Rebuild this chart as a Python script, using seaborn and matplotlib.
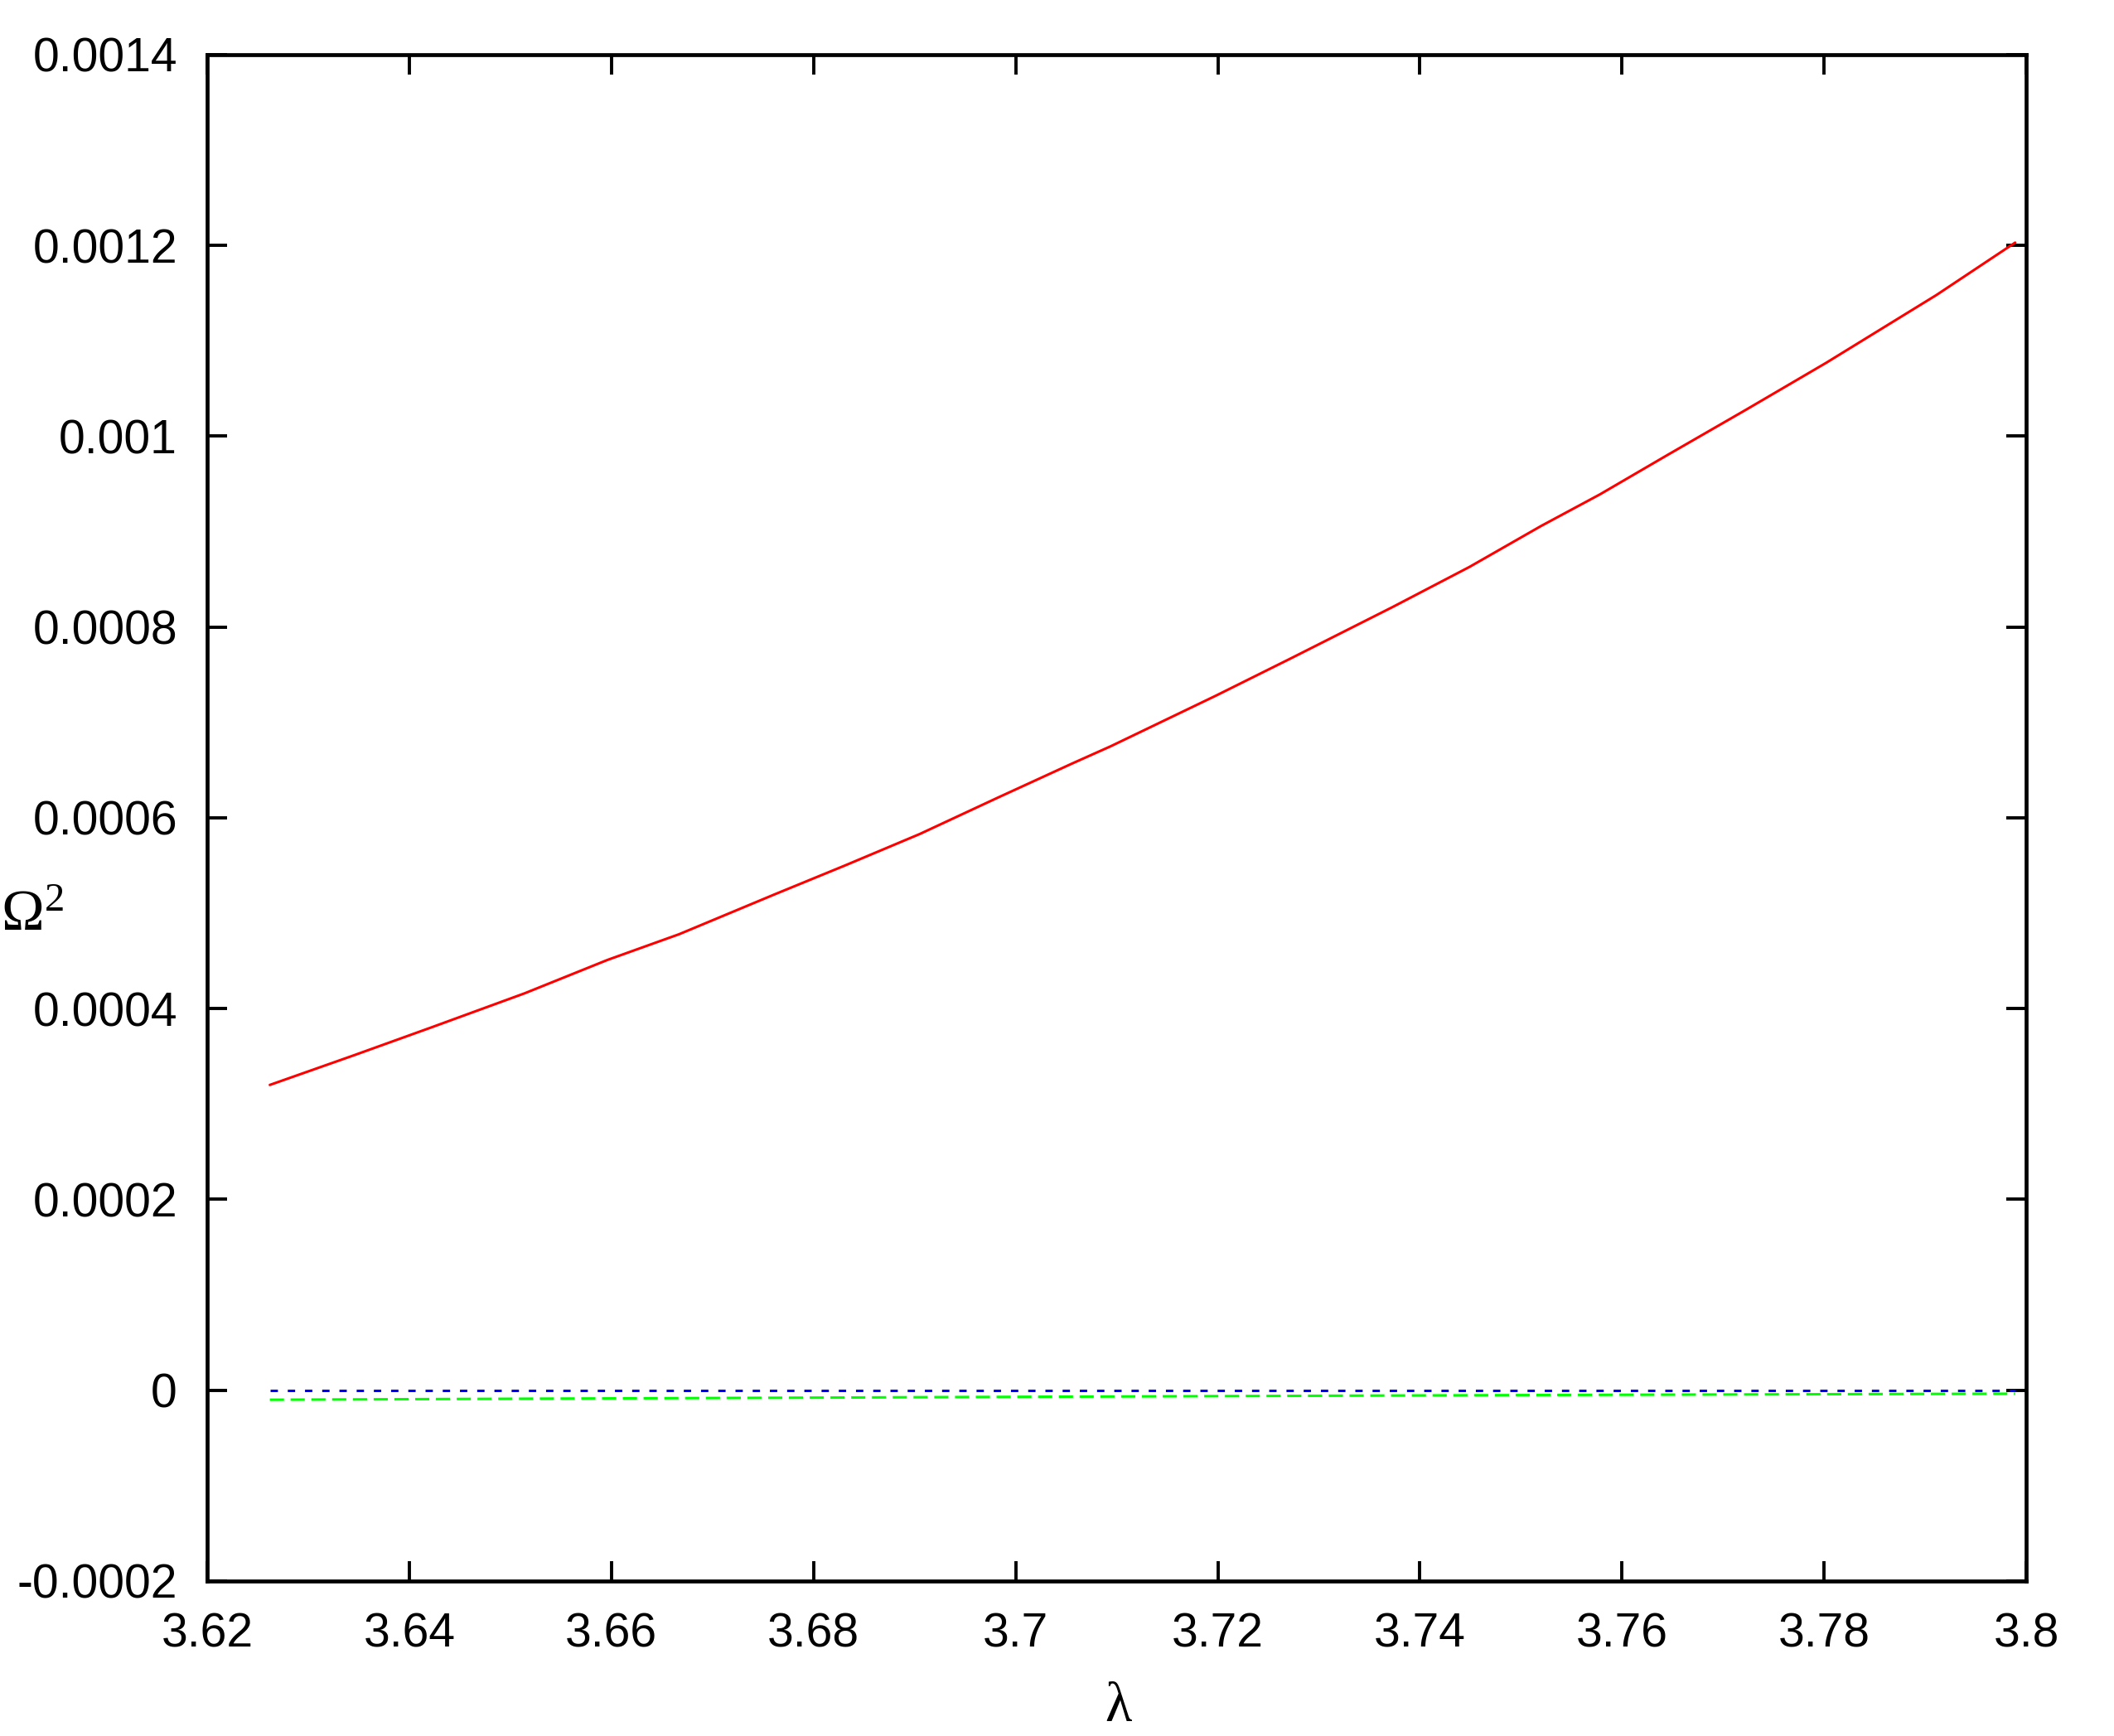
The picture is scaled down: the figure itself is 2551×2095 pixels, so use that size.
import pandas as pd
import matplotlib
matplotlib.use("Agg")
import matplotlib.pyplot as plt
import seaborn as sns

# valores
lam_red = [3.6262, 3.6345, 3.6421, 3.6514, 3.6596, 3.6667, 3.6762, 3.6831, 3.6905,
           3.6982, 3.7056, 3.7094, 3.7198, 3.7272, 3.7373, 3.7449, 3.7520, 3.7578,
           3.7646, 3.7723, 3.7802, 3.7911, 3.7989]
omega_red = [0.000320, 0.000351, 0.000380, 0.000416, 0.000451, 0.000478, 0.000520, 0.000550,
             0.000583, 0.000621, 0.000657, 0.000675, 0.000728, 0.000767, 0.000821, 0.000863,
             0.000906, 0.000939, 0.000981, 0.001028, 0.001077, 0.001148, 0.001203]

lam_green = [3.6262, 3.64, 3.66, 3.68, 3.70, 3.72, 3.74, 3.76, 3.78, 3.7989]
omega_green = [-1.0e-5, -9.4e-6, -8.6e-6, -7.8e-6, -7.0e-6, -6.2e-6, -5.5e-6, -4.8e-6, -4.2e-6, -3.7e-6]

lam_blue = [3.6262, 3.7989]
omega_blue = [0.0, 0.0]

xticks = [3.62, 3.64, 3.66, 3.68, 3.70, 3.72, 3.74, 3.76, 3.78, 3.80]
xtick_labels = ["3.62", "3.64", "3.66", "3.68", "3.7", "3.72", "3.74", "3.76", "3.78", "3.8"]
yticks = [-0.0002, 0.0, 0.0002, 0.0004, 0.0006, 0.0008, 0.001, 0.0012, 0.0014]
ytick_labels = ["-0.0002", "0", "0.0002", "0.0004", "0.0006", "0.0008", "0.001", "0.0012", "0.0014"]

sns.set_style("ticks")
plt.rcParams["font.family"] = ["Liberation Sans", "DejaVu Sans"]
plt.rcParams["mathtext.fontset"] = "custom"
plt.rcParams["mathtext.rm"] = "Liberation Serif"
plt.rcParams["mathtext.it"] = "Liberation Serif"
plt.rcParams["mathtext.default"] = "rm"

fig = plt.figure(figsize=(25.51, 20.95), dpi=100)
ax = fig.add_axes([0.098, 0.0893, 0.8605, 0.8792])

df_red = pd.DataFrame({"lam": lam_red, "omega": omega_red})
df_green = pd.DataFrame({"lam": lam_green, "omega": omega_green})
df_blue = pd.DataFrame({"lam": lam_blue, "omega": omega_blue})

sns.lineplot(data=df_red, x="lam", y="omega", color="#ff0000", lw=2.2, ax=ax)
sns.lineplot(data=df_green, x="lam", y="omega", color="#00ff00", lw=2.2,
             linestyle=(0, (5.6, 2.6)), ax=ax)
sns.lineplot(data=df_blue, x="lam", y="omega", color="#0000ff", lw=2.2,
             linestyle=(0, (2.9, 3.9)), ax=ax)

ax.set_xlim(3.62, 3.80)
ax.set_ylim(-0.0002, 0.0014)
ax.set_xticks(xticks)
ax.set_xticklabels(xtick_labels)
ax.set_yticks(yticks)
ax.set_yticklabels(ytick_labels)

ax.tick_params(direction="in", length=17, width=2.8, labelsize=41,
               colors="black", top=True, right=True, pad=26)
ax.tick_params(axis="x", pad=27)
for s in ax.spines.values():
    s.set_linewidth(3.4)
    s.set_color("black")

ax.set_xlabel("")
ax.set_ylabel("")
fig.text(0.529, 0.0086, "λ", family=["Liberation Serif", "DejaVu Serif"],
         fontsize=48, ha="center", va="baseline", color="black")
fig.text(0.0005, 0.464, "Ω$^{2}$", family=["Liberation Serif", "DejaVu Serif"],
         fontsize=50, ha="left", va="baseline", color="black")

fig.savefig("out.png", dpi=100, facecolor="white")
